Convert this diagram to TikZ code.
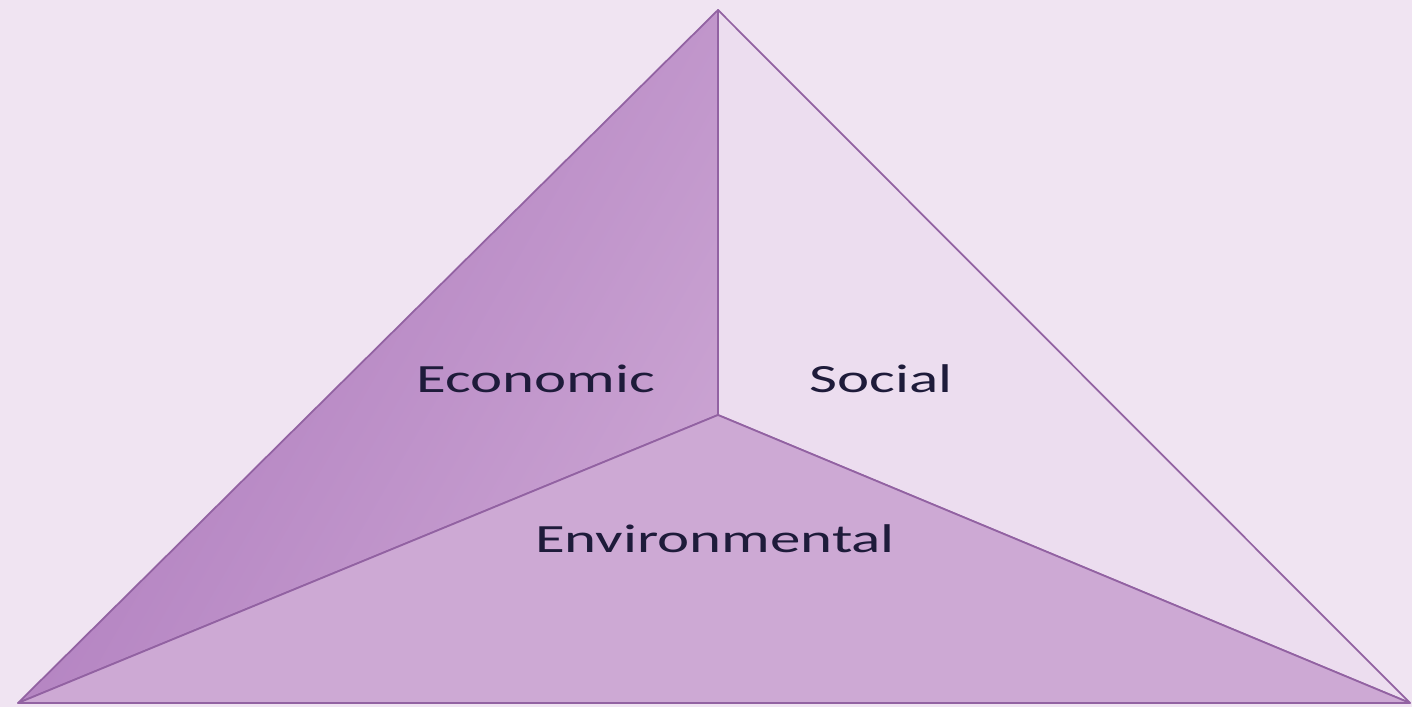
\documentclass[tikz,border=0pt]{standalone}
\usepackage{fontspec}
\setmainfont{Carlito}
\usepackage{tikz}
\definecolor{bgpink}{HTML}{F0E4F2}
\definecolor{ecodark}{HTML}{AC78BC}
\definecolor{ecolight}{HTML}{CAA3D2}
\definecolor{socface}{HTML}{ECDDEF}
\definecolor{envface}{HTML}{CDA9D4}
\definecolor{edgeline}{HTML}{9262A2}
\definecolor{labelink}{HTML}{1E1B3A}
\tikzset{
	face/.style={draw=edgeline, line width=0.5pt, line join=round},
	label/.style={anchor=base, text=labelink, xscale=1.52, font=\fontsize{11.4}{13}\selectfont}
}

\begin{document}
\begin{tikzpicture}
		\fill[bgpink] (0, 0) rectangle (14.12, 7.07);
		\useasboundingbox (0, 0) rectangle (14.12, 7.07);

		\coordinate (top) at (7.18, 6.97);
		\coordinate (left) at (0.18, 0.04);
		\coordinate (right) at (14.10, 0.04);
		\coordinate (mid) at (7.18, 2.92);

		% faces
		\shade[face, left color=ecodark, right color=ecolight, shading angle=60] (left) -- (top) -- (mid) -- cycle;
		\filldraw[face, fill=socface] (top) -- (right) -- (mid) -- cycle;
		\filldraw[face, fill=envface] (left) -- (mid) -- (right) -- cycle;

		\node[label] (eco) at (5.36, 3.14) {Economic};
		\node[label] (soc) at (8.81, 3.14) {Social};
		\node[label] (env) at (7.15, 1.55) {Environmental};
	\end{tikzpicture}
\end{document}
